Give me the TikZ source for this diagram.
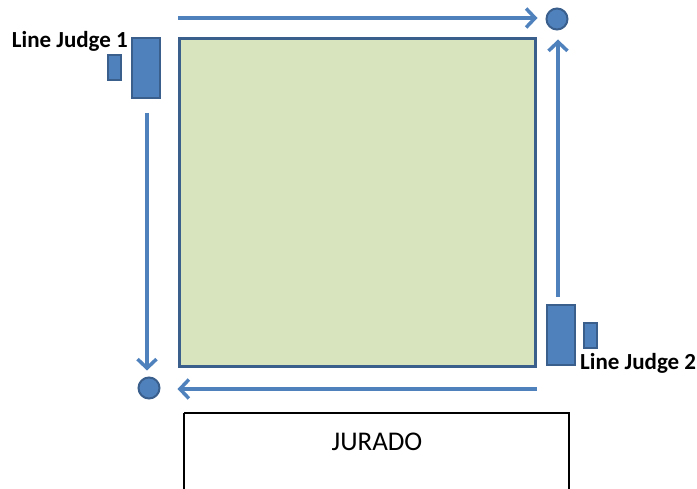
\documentclass[tikz,border=0pt]{standalone}
\usepackage{fontspec}
\setmainfont{Carlito}
\usepackage{tikz}
\usetikzlibrary{arrows.meta}
\definecolor{linea}{HTML}{4F81BD}
\definecolor{borde}{HTML}{3A5F8C}
\definecolor{cesped}{HTML}{D7E4BD}
\tikzset{
  campo/.style = {draw=borde, fill=cesped, line width=3pt,
    minimum width=356pt, minimum height=328pt, inner sep=0pt},% area de juego
  esquina/.style = {circle, draw=borde, fill=linea, line width=2pt,
    minimum size=21pt, inner sep=0pt},% bandera de esquina
  juez_grande/.style = {draw=borde, fill=linea, line width=2pt,
    minimum width=28pt, minimum height=60pt, inner sep=0pt},% juez de linea
  juez_chico/.style = {draw=borde, fill=linea, line width=2pt,
    minimum width=13pt, minimum height=25pt, inner sep=0pt},% banderin
  etiqueta/.style = {font=\fontsize{23}{26}\selectfont\bfseries, inner sep=0pt},
  recorrido/.style = {draw=linea, line width=3.5pt,
    -{Straight Barb[length=9pt, width=19pt, line width=3.5pt]}}% desplazamiento
}

\begin{document}
\begin{tikzpicture}[x=1pt, y=-1pt]
  \useasboundingbox (0,0) rectangle (697,489);
  % campo y jurado
  \node [campo] (field) at (357.5,202.5) {};
  \draw [line width=2pt] (184,413) -- (184,495) (184,413) -- (569,413) -- (569,495);
  \node [font=\fontsize{27}{30}\selectfont, inner sep=0pt] (jurado) at (377,442) {JURADO};
  % esquinas
  \node [esquina] (corner_ne) at (557,19) {};
  \node [esquina] (corner_sw) at (149,388) {};
  % jueces
  \node [juez_grande] (lj1) at (146,68) {};
  \node [juez_chico] (lj1_flag) at (114.5,68) {};
  \node [etiqueta, anchor=east] (lj1_label) at (128,41) {Line Judge 1};
  \node [juez_grande] (lj2) at (560.5,335) {};
  \node [juez_chico] (lj2_flag) at (590.5,335.5) {};
  \node [etiqueta, anchor=west] (lj2_label) at (580,363) {Line Judge 2};
  % recorridos
  \coordinate (top_start) at (178,18);
  \coordinate (right_start) at (558,297);
  \coordinate (left_start) at (147,113);
  \coordinate (bottom_start) at (537,389);
  \draw [recorrido, shorten >=8pt] (top_start) -- (corner_ne.west |- top_start);
  \draw [recorrido, shorten >=9pt] (right_start) -- (right_start |- corner_ne.south);
  \draw [recorrido, shorten >=6pt] (left_start) -- (left_start |- corner_sw.north);
  \draw [recorrido, shorten >=17pt] (bottom_start) -- (corner_sw.east |- bottom_start);
\end{tikzpicture}
\end{document}
